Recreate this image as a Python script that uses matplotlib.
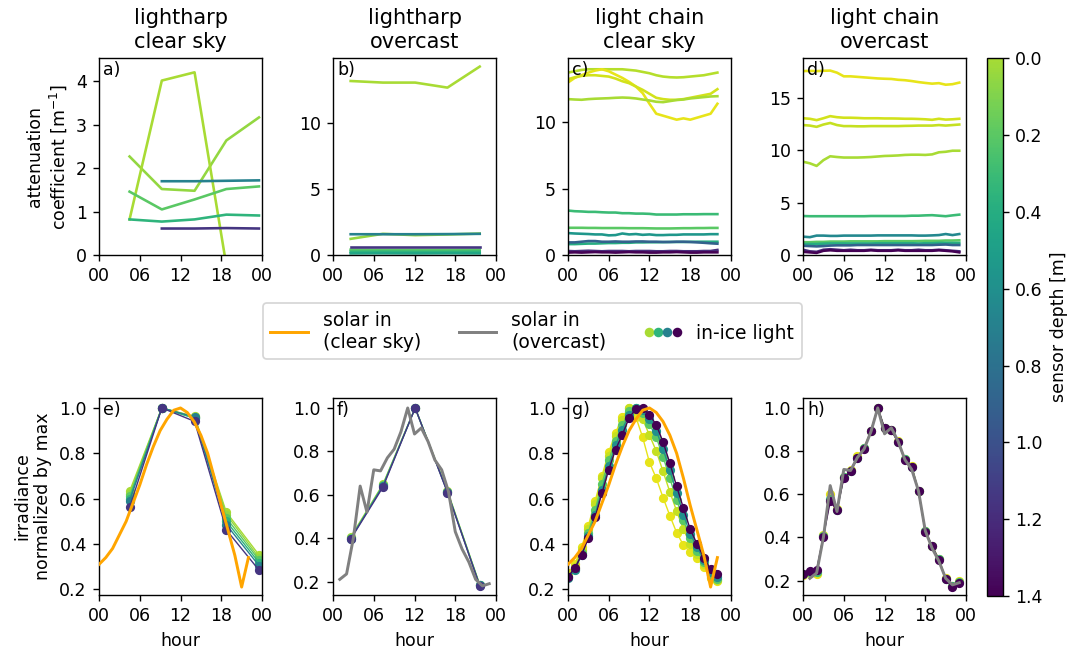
import numpy as np
import matplotlib
matplotlib.use("Agg")
import matplotlib.pyplot as plt
import matplotlib.colors as mcolors
from matplotlib.lines import Line2D
from matplotlib.legend_handler import HandlerTuple

# ─────────────────────────────────────────────────────────────────────────────
# Data
# ─────────────────────────────────────────────────────────────────────────────
nan = np.nan

# lightharp, clear sky: attenuation (a) and normalised irradiance (e)
t_lh_clear = [4.5, 9.25, 14.07, 18.75, 23.55]
depth_a = [0.05, 0.0, 0.2, 0.35, 0.7, 1.15]
att_a = [
    [2.27, 1.52, 1.48, 2.64, 3.17],
    [0.82, 4.02, 4.21, -0.24, -0.6],
    [1.46, 1.05, 1.28, 1.52, 1.58],
    [0.82, 0.77, 0.82, 0.93, 0.91],
    [nan, 1.70, 1.70, 1.71, 1.72],
    [nan, 0.61, 0.61, 0.62, 0.61],
]
depth_e = [0.0, 0.05, 0.2, 0.35, 0.7, 1.15]
irr_e = [
    [0.632, 1.0, 0.963, 0.540, 0.352],
    [0.620, 1.0, 0.960, 0.530, 0.340],
    [0.610, 1.0, 0.955, 0.515, 0.330],
    [0.600, 1.0, 0.955, 0.500, 0.318],
    [0.590, 1.0, 0.960, 0.485, 0.305],
    [0.561, 1.0, 0.941, 0.462, 0.285],
]

# lightharp, overcast: attenuation (b) and normalised irradiance (f)
t_lh_over = [2.6, 7.35, 12.1, 16.85, 21.6]
depth_b = [0.0, 0.05, 0.2, 0.35, 0.45, 0.7, 1.15]
att_b = [
    [13.16, 13.04, 13.04, 12.66, 14.25],
    [1.22, 1.60, 1.50, 1.55, 1.62],
    [0.40, 0.38, 0.38, 0.38, 0.40],
    [0.24, 0.25, 0.24, 0.24, 0.25],
    [0.12, 0.13, 0.12, 0.13, 0.12],
    [1.57, 1.57, 1.57, 1.58, 1.60],
    [0.60, 0.60, 0.60, 0.60, 0.60],
]
depth_f = [0.0, 0.2, 0.7, 1.15]
irr_f = [
    [0.405, 0.648, 1.0, 0.618, 0.186],
    [0.400, 0.645, 1.0, 0.615, 0.184],
    [0.398, 0.640, 1.0, 0.612, 0.182],
    [0.395, 0.635, 1.0, 0.610, 0.180],
]

# light chain, clear sky: attenuation (c) and normalised irradiance (g)
t_lc_clear = list(range(23))
depth_c = [-0.03, -0.15, -0.1, 0.0, 0.3, 0.2, 0.55, 0.4, 0.9, 1.2, 1.4]
att_c = [
    [13.75, 13.85, 13.95, 14.0, 14.0, 14.0, 14.0, 14.0, 14.0, 13.95, 13.9, 13.8,
     13.7, 13.55, 13.45, 13.4, 13.38, 13.4, 13.45, 13.5, 13.55, 13.65, 13.75],
    [13.0, 13.35, 13.55, 13.75, 13.9, 14.0, 13.85, 13.6, 13.35, 13.05, 12.7, 12.2,
     11.4, 10.65, 10.5, 10.35, 10.2, 10.3, 10.2, 10.35, 10.5, 10.65, 11.4],
    [13.25, 13.4, 13.5, 13.55, 13.55, 13.5, 13.45, 13.3, 13.1, 12.95, 12.7, 12.45,
     12.15, 11.85, 11.75, 11.7, 11.7, 11.75, 11.85, 11.95, 12.05, 12.15, 12.5],
    [11.75, 11.72, 11.7, 11.75, 11.78, 11.8, 11.82, 11.85, 11.87, 11.85, 11.8, 11.72,
     11.65, 11.55, 11.52, 11.6, 11.68, 11.72, 11.8, 11.85, 11.9, 11.95, 11.97],
    [3.35, 3.3, 3.28, 3.25, 3.25, 3.22, 3.2, 3.2, 3.15, 3.15, 3.12, 3.12,
     3.1, 3.05, 3.05, 3.05, 3.05, 3.07, 3.07, 3.07, 3.08, 3.08, 3.08],
    [2.05, 2.05, 2.05, 2.04, 2.04, 2.03, 2.03, 2.03, 2.03, 2.02, 2.02, 2.02,
     2.01, 2.0, 2.0, 2.0, 2.01, 2.02, 2.02, 2.03, 2.03, 2.04, 2.04],
    [1.65, 1.62, 1.6, 1.58, 1.55, 1.55, 1.48, 1.5, 1.62, 1.55, 1.58, 1.52,
     1.55, 1.5, 1.5, 1.52, 1.52, 1.55, 1.55, 1.55, 1.55, 1.57, 1.57],
    [0.82, 0.82, 0.84, 0.86, 0.86, 0.88, 0.9, 0.9, 0.92, 0.92, 0.95, 0.95,
     0.96, 0.96, 0.97, 0.98, 0.98, 0.98, 0.99, 1.0, 1.0, 1.0, 1.0],
    [0.95, 0.95, 1.0, 1.05, 1.05, 1.0, 1.0, 1.02, 1.0, 1.0, 1.02, 1.02,
     1.0, 1.0, 0.98, 0.98, 1.0, 1.0, 0.98, 0.95, 0.92, 0.88, 0.85],
    [0.3, 0.28, 0.3, 0.32, 0.3, 0.28, 0.3, 0.3, 0.3, 0.28, 0.3, 0.3,
     0.3, 0.28, 0.28, 0.3, 0.3, 0.28, 0.28, 0.28, 0.3, 0.3, 0.38],
    [0.18, 0.2, 0.18, 0.2, 0.22, 0.2, 0.2, 0.18, 0.2, 0.22, 0.2, 0.2,
     0.18, 0.18, 0.2, 0.2, 0.22, 0.2, 0.18, 0.18, 0.2, 0.2, 0.2],
]
depth_g = [-0.15, -0.07, 0.2, 0.6, 1.4]
irr_g = [
    [0.27, 0.31, 0.385, 0.48, 0.59, 0.70, 0.805, 0.89, 0.96, 1.0, 0.96, 0.87,
     0.76, 0.69, 0.605, 0.525, 0.45, 0.395, 0.365, 0.34, 0.30, 0.25, 0.235],
    [0.26, 0.30, 0.375, 0.465, 0.575, 0.69, 0.79, 0.875, 0.945, 1.0, 0.99, 0.95,
     0.88, 0.81, 0.72, 0.63, 0.545, 0.465, 0.40, 0.355, 0.31, 0.255, 0.24],
    [0.255, 0.29, 0.36, 0.45, 0.55, 0.665, 0.77, 0.855, 0.925, 0.985, 1.0, 0.98,
     0.93, 0.87, 0.785, 0.69, 0.595, 0.505, 0.425, 0.37, 0.32, 0.265, 0.245],
    [0.25, 0.285, 0.35, 0.435, 0.53, 0.64, 0.745, 0.835, 0.905, 0.97, 1.0, 0.99,
     0.95, 0.90, 0.82, 0.725, 0.625, 0.53, 0.445, 0.385, 0.33, 0.275, 0.255],
    [0.256, 0.293, 0.352, 0.425, 0.517, 0.624, 0.727, 0.816, 0.882, 0.956, 0.996, 1.0,
     0.97, 0.926, 0.85, 0.757, 0.654, 0.558, 0.465, 0.40, 0.34, 0.288, 0.268],
]

# light chain, overcast: attenuation (d) and normalised irradiance (h)
t_lc_over = list(range(24))
depth_d = [-0.15, -0.1, -0.07, 0.0, 0.3, 0.65, 0.2, 0.4, 0.9, 1.2, 1.4]
att_d = [
    [17.55, 17.57, 17.55, 17.58, 17.6, 17.4, 17.05, 17.05, 17.0, 16.95, 16.9, 16.85,
     16.82, 16.8, 16.72, 16.68, 16.6, 16.5, 16.42, 16.35, 16.4, 16.25, 16.3, 16.45],
    [13.05, 13.0, 12.87, 13.05, 13.25, 13.15, 13.1, 13.1, 13.08, 13.05, 13.05, 13.05,
     13.03, 13.03, 13.02, 13.0, 13.0, 12.98, 12.95, 12.9, 13.0, 12.92, 12.95, 13.0],
    [12.4, 12.35, 12.23, 12.45, 12.6, 12.4, 12.3, 12.3, 12.28, 12.28, 12.3, 12.3,
     12.3, 12.3, 12.3, 12.32, 12.33, 12.35, 12.35, 12.35, 12.4, 12.35, 12.4, 12.45],
    [8.9, 8.75, 8.5, 9.05, 9.42, 9.35, 9.3, 9.3, 9.3, 9.32, 9.35, 9.4,
     9.45, 9.47, 9.5, 9.55, 9.57, 9.57, 9.55, 9.6, 9.8, 9.85, 9.95, 9.95],
    [3.72, 3.7, 3.7, 3.7, 3.7, 3.7, 3.7, 3.7, 3.7, 3.7, 3.72, 3.72,
     3.72, 3.72, 3.72, 3.72, 3.75, 3.75, 3.78, 3.8, 3.75, 3.7, 3.78, 3.85],
    [1.75, 1.7, 1.85, 1.85, 1.82, 1.82, 1.85, 1.85, 1.85, 1.85, 1.85, 1.87,
     1.87, 1.87, 1.87, 1.87, 1.87, 1.85, 1.85, 1.87, 1.9, 2.0, 1.9, 2.0],
    [1.22, 1.22, 1.25, 1.25, 1.28, 1.28, 1.28, 1.3, 1.3, 1.3, 1.3, 1.3,
     1.32, 1.32, 1.32, 1.32, 1.32, 1.33, 1.35, 1.35, 1.35, 1.38, 1.38, 1.4],
    [1.05, 1.05, 1.05, 1.08, 1.1, 1.1, 1.1, 1.1, 1.1, 1.1, 1.1, 1.12,
     1.12, 1.12, 1.12, 1.12, 1.12, 1.1, 1.12, 1.12, 1.15, 1.15, 1.15, 1.15],
    [0.88, 0.85, 0.82, 0.85, 0.9, 0.92, 0.92, 0.92, 0.95, 0.95, 0.95, 0.95,
     0.95, 0.95, 0.95, 0.95, 0.95, 0.95, 0.95, 0.95, 0.98, 1.0, 0.95, 0.95],
    [0.5, 0.35, 0.3, 0.5, 0.55, 0.5, 0.45, 0.5, 0.45, 0.45, 0.5, 0.45,
     0.45, 0.45, 0.5, 0.45, 0.45, 0.5, 0.45, 0.45, 0.5, 0.45, 0.4, 0.35],
    [0.3, 0.25, 0.2, 0.4, 0.45, 0.4, 0.4, 0.4, 0.4, 0.4, 0.45, 0.4,
     0.4, 0.4, 0.45, 0.4, 0.4, 0.4, 0.4, 0.4, 0.45, 0.4, 0.35, 0.25],
]
depth_h = [-0.15, 0.3, 1.4]
irr_h = [
    [0.225, 0.235, 0.23, 0.41, 0.60, 0.53, 0.68, 0.71, 0.775, 0.815, 0.895, 1.0,
     0.905, 0.90, 0.845, 0.765, 0.73, 0.615, 0.43, 0.36, 0.30, 0.21, 0.175, 0.20],
    [0.228, 0.238, 0.24, 0.405, 0.58, 0.528, 0.678, 0.708, 0.77, 0.812, 0.893, 1.0,
     0.906, 0.898, 0.842, 0.762, 0.728, 0.614, 0.428, 0.36, 0.298, 0.208, 0.174, 0.194],
    [0.231, 0.242, 0.25, 0.404, 0.567, 0.525, 0.675, 0.706, 0.768, 0.81, 0.892, 1.0,
     0.907, 0.896, 0.84, 0.76, 0.726, 0.613, 0.427, 0.361, 0.296, 0.206, 0.172, 0.188],
]

# incoming solar radiation, normalised by max
t_sun_clear = list(range(23))
sun_clear = [0.31, 0.34, 0.38, 0.44, 0.50, 0.58, 0.66, 0.75, 0.83, 0.90, 0.95, 0.99,
             1.0, 0.98, 0.94, 0.88, 0.80, 0.69, 0.57, 0.46, 0.35, 0.21, 0.34]
t_sun_over = list(range(1, 24))
sun_over = [0.21, 0.235, 0.40, 0.64, 0.52, 0.715, 0.71, 0.77, 0.81, 0.89, 1.0, 0.88,
            0.908, 0.845, 0.76, 0.715, 0.615, 0.43, 0.35, 0.29, 0.21, 0.18, 0.19]

titles = ["lightharp\nclear sky", "lightharp\novercast",
          "light chain\nclear sky", "light chain\novercast"]
hour_ticks = [0, 6, 12, 18, 24]
hour_labels = ["00", "06", "12", "18", "00"]
top_yticks = [[0, 1, 2, 3, 4], [0, 5, 10], [0, 5, 10], [0, 5, 10, 15]]
bot_yticks = [0.2, 0.4, 0.6, 0.8, 1.0]

# ─────────────────────────────────────────────────────────────────────────────
# Style
# ─────────────────────────────────────────────────────────────────────────────
DPI = 125
plt.rcParams.update({
    "font.family": "DejaVu Sans",
    "font.size": 10,
})
cmap = plt.cm.viridis_r
norm = mcolors.Normalize(vmin=-0.21, vmax=1.4)

fig = plt.figure(figsize=(1069 / DPI, 648 / DPI), dpi=DPI)
lefts = [0.0926, 0.3115, 0.5313, 0.7512]
w, h = 0.1525, 0.304
top_axes = [fig.add_axes([l, 0.6065, w, h]) for l in lefts]
bot_axes = [fig.add_axes([l, 0.0818, w, h]) for l in lefts]

# ─────────────────────────────────────────────────────────────────────────────
# Top row: attenuation coefficient
# ─────────────────────────────────────────────────────────────────────────────
top_sets = [
    (t_lh_clear, depth_a, att_a, 4.54),
    (t_lh_over, depth_b, att_b, 14.9),
    (t_lc_clear, depth_c, att_c, 14.85),
    (t_lc_over, depth_d, att_d, 18.8),
]
for ax, (t, depths, vals, ytop), yt in zip(top_axes, top_sets, top_yticks):
    for d, v in zip(depths, vals):
        ax.plot(t, v, color=cmap(norm(d)), lw=1.5)
    ax.set_ylim(0, ytop)
    ax.set_yticks(yt)

# ─────────────────────────────────────────────────────────────────────────────
# Bottom row: normalised irradiance
# ─────────────────────────────────────────────────────────────────────────────
bot_sets = [
    (t_lh_clear, depth_e, irr_e, "clear", (0.175, 1.044)),
    (t_lh_over, depth_f, irr_f, "over", (0.138, 1.046)),
    (t_lc_clear, depth_g, irr_g, "clear", (0.175, 1.044)),
    (t_lc_over, depth_h, irr_h, "over", (0.133, 1.046)),
]
for ax, (t, depths, vals, sky, ylim) in zip(bot_axes, bot_sets):
    for d, v in zip(depths, vals):
        ax.plot(t, v, "-o", color=cmap(norm(d)), lw=0.8, ms=4.3, zorder=2)
    if sky == "clear":
        ax.plot(t_sun_clear, sun_clear, color="orange", lw=1.7, zorder=3)
    else:
        ax.plot(t_sun_over, sun_over, color="grey", lw=1.7, zorder=3)
    ax.set_ylim(*ylim)
    ax.set_yticks(bot_yticks)
    ax.set_xlabel("hour")

for i, ax in enumerate(top_axes + bot_axes):
    ax.set_xlim(0, 24)
    ax.set_xticks(hour_ticks)
    ax.set_xticklabels(hour_labels)
    ax.text(0.025, 0.985, "abcdefgh"[i] + ")", transform=ax.transAxes,
            ha="left", va="top")
for ax, title in zip(top_axes, titles):
    ax.set_title(title)

top_axes[0].set_ylabel("attenuation\ncoefficient [m$^{-1}$]")
bot_axes[0].set_ylabel("irradiance\nnormalized by max")

# ─────────────────────────────────────────────────────────────────────────────
# Legend & colourbar
# ─────────────────────────────────────────────────────────────────────────────
dots = tuple(Line2D([], [], ls="", marker="o", ms=4.5, color=cmap(norm(d)))
             for d in [0.0, 0.35, 0.7, 1.4])
handles = [Line2D([], [], color="orange", lw=1.7),
           Line2D([], [], color="grey", lw=1.7),
           dots]
labels = ["solar in\n(clear sky)", "solar in\n(overcast)", "in-ice light"]
fig.legend(handles, labels, ncol=3, loc="center", bbox_to_anchor=(0.498, 0.489),
           fontsize=10.8,
           handler_map={tuple: HandlerTuple(ndivide=None, pad=0.0)})

cax = fig.add_axes([0.9233, 0.0802, 0.015, 0.830])
sm = plt.cm.ScalarMappable(norm=norm, cmap=cmap)
cb = fig.colorbar(sm, cax=cax, boundaries=np.linspace(0, 1.4, 281))
cb.set_ticks(np.arange(0, 1.41, 0.2))
cax.set_ylim(1.4, 0)
cb.set_label("sensor depth [m]")

fig.savefig("out.png", dpi=DPI)
